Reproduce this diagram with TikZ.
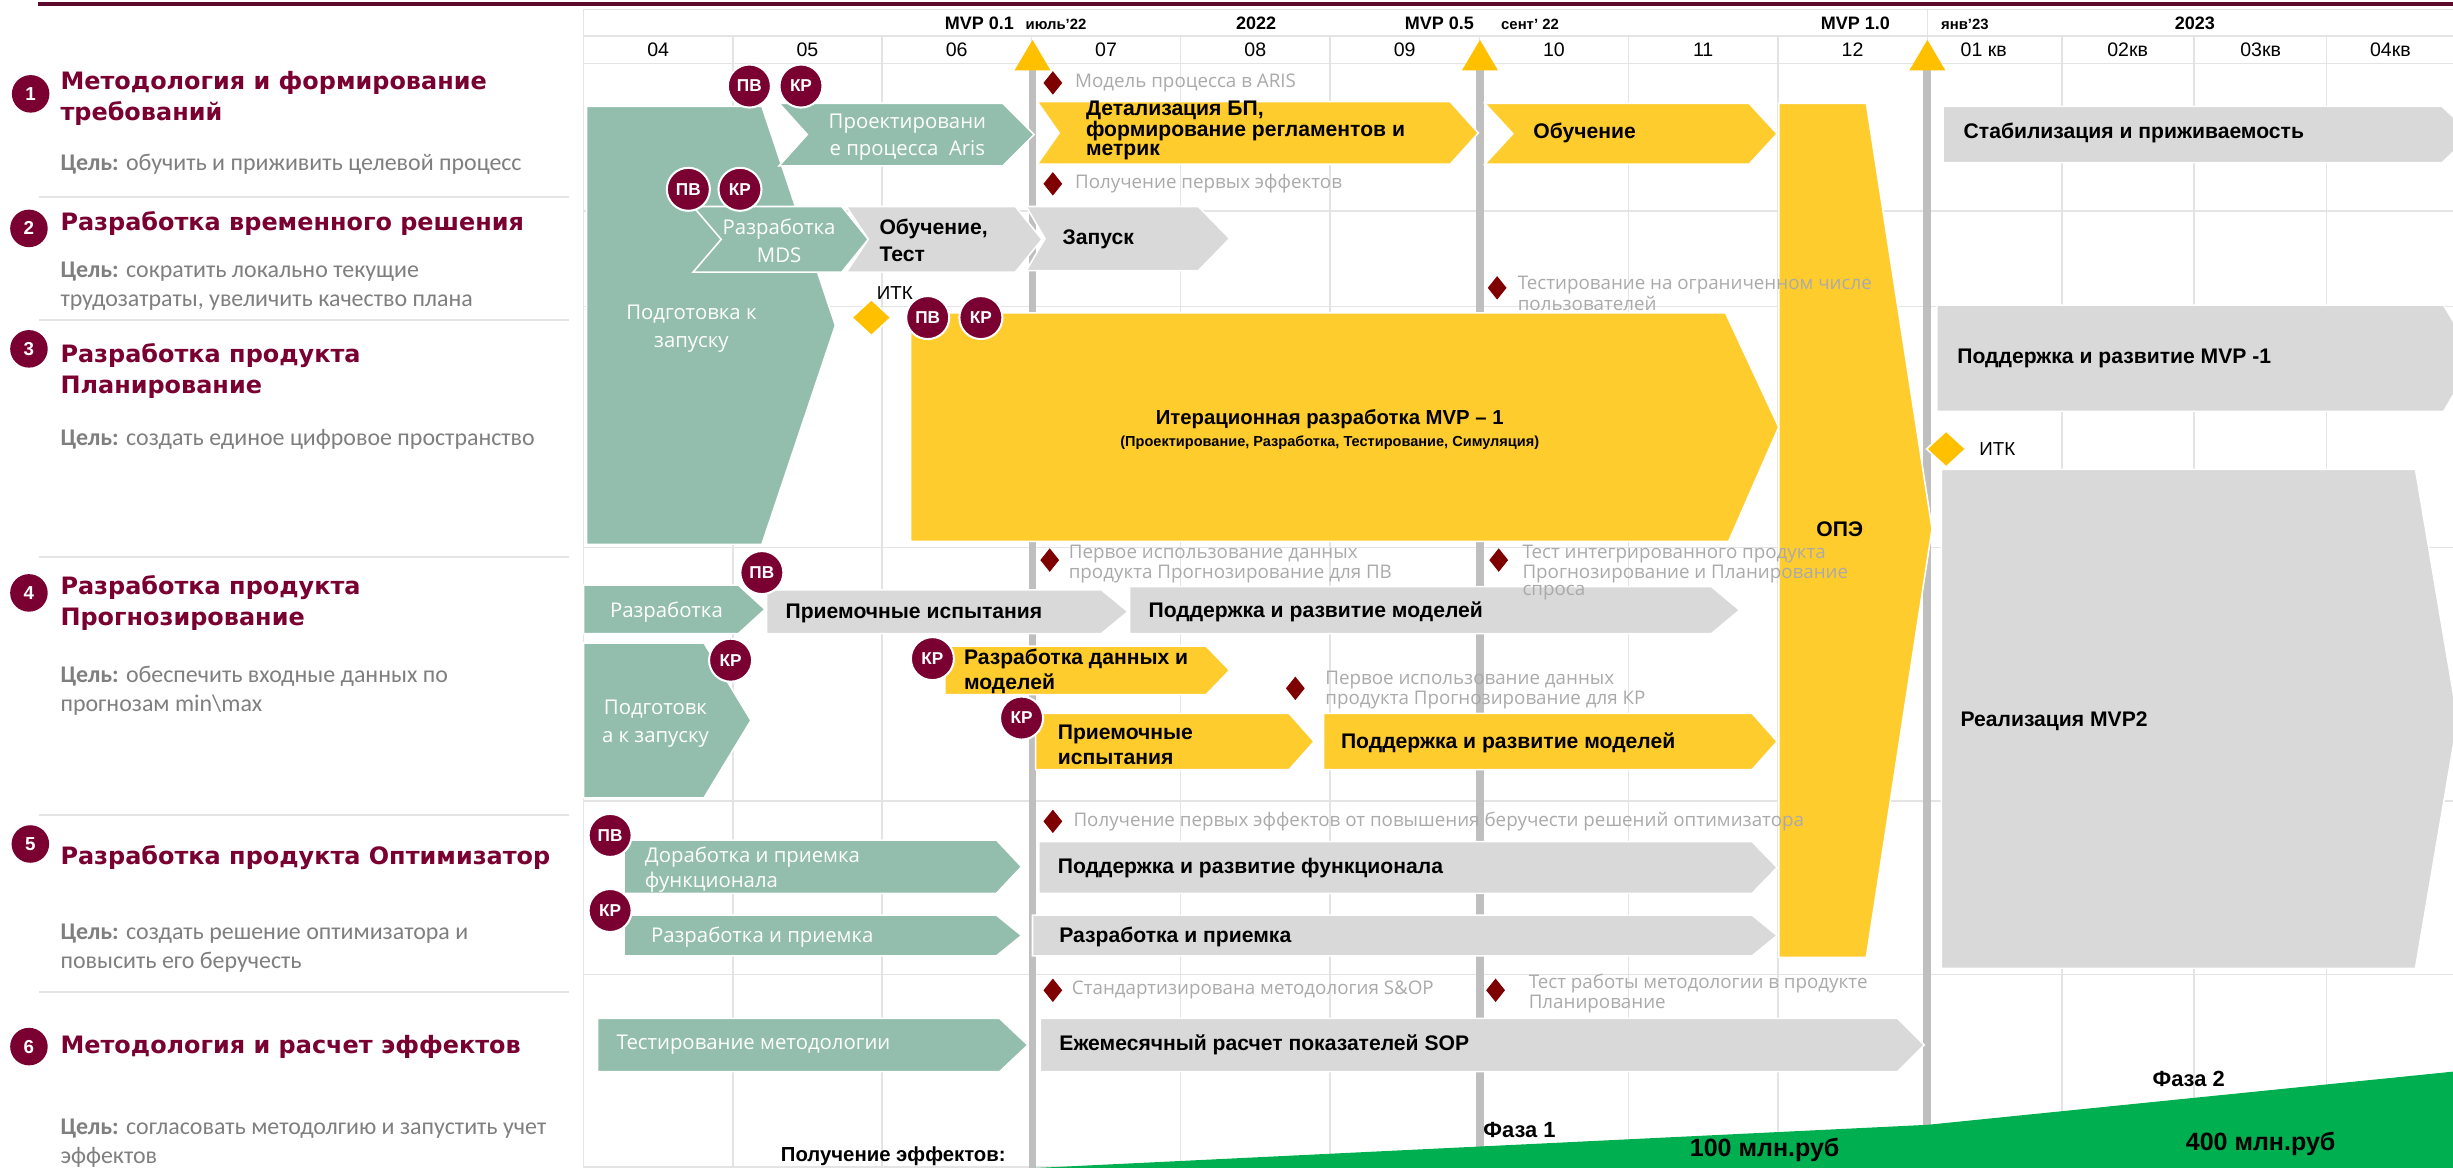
\documentclass[tikz,border=0pt]{standalone}
\usepackage{fontspec}
\setmainfont{Liberation Sans}
\newfontfamily\fti{DejaVu Sans}
\newfontfamily\fgo{Carlito}
\newfontfamily\fli{Open Sans}
\definecolor{maroon}{HTML}{7A0032}
\definecolor{topred}{HTML}{5E0A2C}
\definecolor{dred}{HTML}{7F0000}
\definecolor{sage}{HTML}{93BEAE}
\definecolor{yel}{HTML}{FFCC2E}
\definecolor{amber}{HTML}{FFC000}
\definecolor{lgray}{HTML}{D9D9D9}
\definecolor{gridc}{HTML}{E4E4E4}
\definecolor{barc}{HTML}{BFBFBF}
\definecolor{msgray}{HTML}{AAAAAA}
\definecolor{goalgray}{HTML}{7F7F7F}
\definecolor{effgreen}{HTML}{00B050}
\newcommand{\chev}[7]{%
  \filldraw[fill=#1,draw=white,line width=1pt] (#2,#3) -- (#4,#3) -- (#5,{(#3+#6)/2}) -- (#4,#6) -- (#2,#6) -- (#7,{(#3+#6)/2}) -- cycle;}
\newcommand{\msd}[2]{%
  \fill[dred,shift={(#1,#2)}] (0,-7.5) -- (6,0) -- (0,7.5) -- (-6,0) -- cycle;}
\newcommand{\itk}[2]{%
  \filldraw[fill=amber,draw=white,line width=1pt,shift={(#1,#2)}] (0,-11.5) -- (12.5,0) -- (0,11.5) -- (-12.5,0) -- cycle;}
\newcommand{\mtri}[1]{%
  \fill[amber,shift={(#1,0)}] (0,25.5) -- (11.5,45) -- (-11.5,45) -- cycle;}
\begin{document}
\begin{tikzpicture}[x=1pt,y=-1pt,
  grid/.style={draw=gridc,line width=1pt},
  sep/.style={draw=gridc,line width=1.6pt},
  bar/.style={draw=barc,line width=5pt},
  lbl/.style={inner sep=0pt,anchor=west,align=left,text=black,font=\bfseries\fontsize{13.5}{15}\selectfont},
  wlbl/.style={inner sep=0pt,align=center,text=white,font=\fli\fontsize{13}{17.5}\selectfont},
  wlbll/.style={inner sep=0pt,anchor=west,align=left,text=white,font=\fli\fontsize{13}{16}\selectfont},
  glbl/.style={inner sep=0pt,anchor=west,align=left,text=msgray,font=\fli\fontsize{12}{10.8}\selectfont},
  circ/.style={circle,fill=maroon,draw=white,line width=1.3pt,minimum size=27.5pt,inner sep=0pt,text=white,font=\bfseries\fontsize{11}{11}\selectfont},
  num/.style={circle,fill=maroon,minimum size=24pt,inner sep=0pt,text=white,font=\bfseries\fontsize{12}{12}\selectfont},
  title/.style={inner sep=0pt,anchor=west,align=left,text=maroon,font=\fti\bfseries\fontsize{15.3}{20}\selectfont},
  goal/.style={inner sep=0pt,anchor=west,align=left,text=goalgray,font=\fgo\fontsize{15.3}{18.5}\selectfont},
  hdr/.style={inner sep=0pt,font=\bfseries\fontsize{11.5}{12}\selectfont},
  hdrs/.style={inner sep=0pt,font=\bfseries\fontsize{9.5}{10}\selectfont},
  mon/.style={inner sep=0pt,font=\fontsize{12.5}{13}\selectfont},
  big/.style={inner sep=0pt,font=\bfseries\fontsize{16}{17}\selectfont},
  phase/.style={inner sep=0pt,font=\bfseries\fontsize{14}{15}\selectfont}]
\useasboundingbox (0,0) rectangle (1568,746.6);
\clip (0,0) rectangle (1568,746.6);
\fill[white] (0,0) rectangle (1568,746.6);

% ---------- grid ----------
\draw[grid] (373,6) -- (1568,6);
\draw[grid] (373,23) -- (1568,23);
\foreach \yy in {40.5,135,196,350,512,623,746} {\draw[grid] (373,\yy) -- (1568,\yy);}
\draw[grid] (373,6) -- (373,746.6);
\foreach \k in {1,...,8} {\draw[grid] ({373+95.43*\k},23) -- ({373+95.43*\k},746.6);}
\draw[grid] (1232,6) -- (1232,746.6);
\foreach \xx in {1318,1402.5,1487} {\draw[grid] (\xx,23) -- (\xx,746.6);}

% ---------- top line ----------
\draw[topred,line width=2.6pt] (24.6,2.6) -- (1568,2.6);

% ---------- header ----------
\node[hdr]  (m01) at (626,15) {MVP 0.1};
\node[hdrs] (d01) at (675,15.5) {июль’22};
\node[hdr]  (y22) at (803,15) {2022};
\node[hdr]  (m05) at (920,15) {MVP 0.5};
\node[hdrs] (d05) at (978,15.5) {сент’ 22};
\node[hdr]  (m10) at (1186,15) {MVP 1.0};
\node[hdrs] (d10) at (1256,15.5) {янв’23};
\node[hdr]  (y23) at (1403,15) {2023};
\foreach \lab [count=\i from 0] in {04,05,06,07,08,09,10,11,12}
  {\node[mon] at ({420.7+95.43*\i},32) {\lab};}
\node[mon] (q1) at (1268,32) {01 кв};
\node[mon] (q2) at (1360,32) {02кв};
\node[mon] (q3) at (1445,32) {03кв};
\node[mon] (q4) at (1528,32) {04кв};

% ---------- left column ----------
\foreach \yy in {126,204.6,356,521,634} {\draw[sep] (25,\yy) -- (364,\yy);}
\node[num] (n1) at (19.6,60) {1};
\node[title] (t1) at (38.5,63) {Методология и формирование\\требований};
\node[goal] (g1) at (38.5,105) {\textbf{Цель:} обучить и приживить целевой процесс};
\node[num] (n2) at (18.5,146) {2};
\node[title] (t2) at (38.5,143) {Разработка временного решения};
\node[goal] (g2) at (38.5,183) {\textbf{Цель:} сократить локально текущие\\трудозатраты, увеличить качество плана};
\node[num] (n3) at (18.5,223) {3};
\node[title] (t3) at (38.5,237) {Разработка продукта\\Планирование};
\node[goal] (g3) at (38.5,281) {\textbf{Цель:} создать единое цифровое пространство};
\node[num] (n4) at (18.5,379) {4};
\node[title] (t4) at (38.5,385.5) {Разработка продукта\\Прогнозирование};
\node[goal] (g4) at (38.5,441.5) {\textbf{Цель:} обеспечить входные данных по\\прогнозам min\textbackslash max};
\node[num] (n5) at (19.4,539.5) {5};
\node[title] (t5) at (38.5,548) {Разработка продукта Оптимизатор};
\node[goal] (g5) at (38.5,606) {\textbf{Цель:} создать решение оптимизатора и\\повысить его беручесть};
\node[num] (n6) at (18.5,669) {6};
\node[title] (t6) at (38.5,669.5) {Методология и расчет эффектов};
\node[goal] (g6) at (38.5,730.5) {\textbf{Цель:} согласовать методолгию и запустить учет\\эффектов};

% ---------- milestone bars ----------
\foreach \xx in {660,946,1232} {\draw[bar] (\xx,40) -- (\xx,746.6);}

% ---------- big green ----------
\filldraw[fill=sage,draw=white,line width=1pt] (375,68) -- (487,68) -- (534,208) -- (487,348) -- (375,348) -- cycle;
\node[wlbl] (prep) at (442,210) {Подготовка к\\запуску};

% ---------- row 1 ----------
\chev{sage}{498}{66}{641}{661}{106}{516}
\node[wlbl] (aris) at (580,87.5) {Проектировани\\е процесса~~Aris};
\chev{yel}{663}{65}{927}{945}{105}{677}
\node[lbl,font=\bfseries\fontsize{13.5}{12}\selectfont] (detal) at (694,83.5) {Детализация БП,\\формирование регламентов и\\метрик};
\chev{yel}{949}{66}{1118}{1136}{105}{967}
\node[lbl] (obuch) at (980,85) {Обучение};
\filldraw[fill=yel,draw=white,line width=1pt] (1137,66) -- (1193,66) -- (1235,338) -- (1193,612) -- (1137,612) -- cycle;
\node[inner sep=0pt,font=\bfseries\fontsize{13.5}{15}\selectfont] (ope) at (1176,338) {ОПЭ};
\chev{lgray}{1242}{68}{1561}{1580}{104}{1242}
\node[lbl] (stab) at (1255,85) {Стабилизация и приживаемость};

% ---------- row 2 ----------
\chev{sage}{443}{132}{538}{555}{174}{461}
\node[wlbl] (mds) at (498,154) {Разработка\\MDS};
\chev{lgray}{541}{132}{649}{666}{174}{555}
\node[lbl,font=\bfseries\fontsize{13.5}{17}\selectfont] (obt) at (562,153.5) {Обучение,\\Тест};
\chev{lgray}{656}{132}{766}{786}{173}{668}
\node[lbl] (zap) at (679,153) {Запуск};

% ---------- row 3 ----------
\filldraw[fill=yel,draw=white,line width=1pt] (582,200) -- (1103,200) -- (1137,273) -- (1105,346) -- (582,346) -- cycle;
\node[inner sep=0pt,font=\bfseries\fontsize{13}{14}\selectfont] (iter) at (850,268) {Итерационная разработка MVP – 1};
\node[inner sep=0pt,font=\bfseries\fontsize{9.3}{10}\selectfont] (iters) at (850,283) {(Проектирование, Разработка, Тестирование, Симуляция)};
\chev{lgray}{1238}{195}{1562}{1582}{263}{1238}
\node[lbl] (sup1) at (1251,229) {Поддержка и развитие MVP -1};
\filldraw[fill=lgray,draw=white,line width=1pt] (1241,300) -- (1544,300) -- (1571,460) -- (1544,619) -- (1241,619) -- cycle;
\node[lbl] (mvp2) at (1253,461) {Реализация MVP2};
\itk{557}{203}
\node[inner sep=0pt,font=\fontsize{12}{12}\selectfont] (itk1) at (572,187) {ИТК};
\itk{1244}{287}
\node[inner sep=0pt,anchor=west,font=\fontsize{12}{12}\selectfont] (itk2) at (1265,287) {ИТК};

% ---------- row 4 ----------
\chev{sage}{373}{374}{472}{489}{405}{373}
\node[wlbl] (razr) at (426,391) {Разработка};
\chev{lgray}{490}{377}{704}{721}{405}{490}
\node[lbl] (pri1) at (502,392) {Приемочные испытания};
\chev{lgray}{722}{375}{1094}{1112}{405}{722}
\node[lbl] (sup2) at (734,391) {Поддержка и развитие моделей};
\chev{sage}{373}{411}{450}{480}{510}{373}
\node[wlbl] (prep2) at (419,462.5) {Подготовк\\а к запуску};
\chev{yel}{604}{413}{771}{786}{444}{604}
\node[lbl,font=\bfseries\fontsize{13.5}{16}\selectfont] (rdm) at (616,429) {Разработка данных и\\моделей};
\chev{yel}{662}{456}{824}{840}{492}{662}
\node[lbl,font=\bfseries\fontsize{13.5}{16}\selectfont] (pri2) at (676,476) {Приемочные\\испытания};
\chev{yel}{846}{456}{1120}{1136}{492}{846}
\node[lbl] (sup3) at (857,475) {Поддержка и развитие моделей};

% ---------- row 5 ----------
\chev{sage}{399}{537}{637}{653}{571}{399}
\node[wlbll] (dor) at (412,556) {Доработка и приемка\\функционала};
\chev{lgray}{664}{538}{1120}{1136}{571}{664}
\node[lbl] (supf) at (676,555) {Поддержка и развитие функционала};
\chev{sage}{399}{585}{637}{653}{611}{399}
\node[wlbll] (rp1) at (416,599) {Разработка и приемка};
\chev{lgray}{660}{585}{1120}{1136}{611}{660}
\node[lbl] (rp2) at (677,599) {Разработка и приемка};

% ---------- row 6 ----------
\chev{sage}{382}{651}{639}{657}{685}{382}
\node[wlbll] (tm) at (394,668) {Тестирование методологии};
\chev{lgray}{665}{651}{1213}{1230}{685}{665}
\node[lbl] (sop) at (677,668) {Ежемесячный расчет показателей SOP};

% ---------- milestone triangles ----------
\foreach \xx in {660,946,1232} {\mtri{\xx}}

% ---------- ПВ / КР ----------
\node[circ] (pv1) at (479,55) {ПВ};
\node[circ] (kr1) at (512,55) {КР};
\node[circ] (pv2) at (440,121) {ПВ};
\node[circ] (kr2) at (473,121) {КР};
\node[circ] (pv3) at (593,203) {ПВ};
\node[circ] (kr3) at (627,203) {КР};
\node[circ] (pv4) at (487,366) {ПВ};
\node[circ] (kr4) at (467,422) {КР};
\node[circ] (kr5) at (596,421) {КР};
\node[circ] (kr6) at (653,459) {КР};
\node[circ] (pv5) at (390,534) {ПВ};
\node[circ] (kr7) at (390,582) {КР};

% ---------- milestones ----------
\msd{673}{53}
\node[glbl] (ms1) at (687,53) {Модель процесса в ARIS};
\msd{673}{117.5}
\node[glbl] (ms2) at (687,117.5) {Получение первых эффектов};
\msd{957}{184}
\node[glbl] (ms3) at (970,187.5) {Тестирование на ограниченном числе\\пользователей};
\msd{671}{358}
\node[glbl] (ms4) at (683,360.5) {Первое использование данных\\продукта Прогнозирование для ПВ};
\msd{958}{358}
\node[glbl] (ms5) at (973,366) {Тест интегрированного продукта\\Прогнозирование и Планирование\\спроса};
\msd{828}{440}
\node[glbl] (ms6) at (847,441) {Первое использование данных\\продукта Прогнозирование для КР};
\msd{673}{525}
\node[glbl] (ms7) at (686,525) {Получение первых эффектов от повышения беручести решений оптимизатора};
\msd{673}{633}
\node[glbl] (ms8) at (685,633) {Стандартизирована методология S\&OP};
\msd{956}{633}
\node[glbl] (ms9) at (977,635) {Тест работы методологии в продукте\\Планирование};

% ---------- effects ----------
\fill[effgreen] (662,746.6) -- (1232,719) -- (1568,685) -- (1568,746.6) -- cycle;
\node[inner sep=0pt,font=\bfseries\fontsize{13}{14}\selectfont] (eff) at (571,739) {Получение эффектов:};
\node[phase,anchor=west] (ph1) at (948,722) {Фаза 1};
\node[big] (r100) at (1128,735) {100 млн.руб};
\node[phase] (ph2) at (1399,690) {Фаза 2};
\node[big] (r400) at (1445,731) {400 млн.руб};
\end{tikzpicture}
\end{document}
